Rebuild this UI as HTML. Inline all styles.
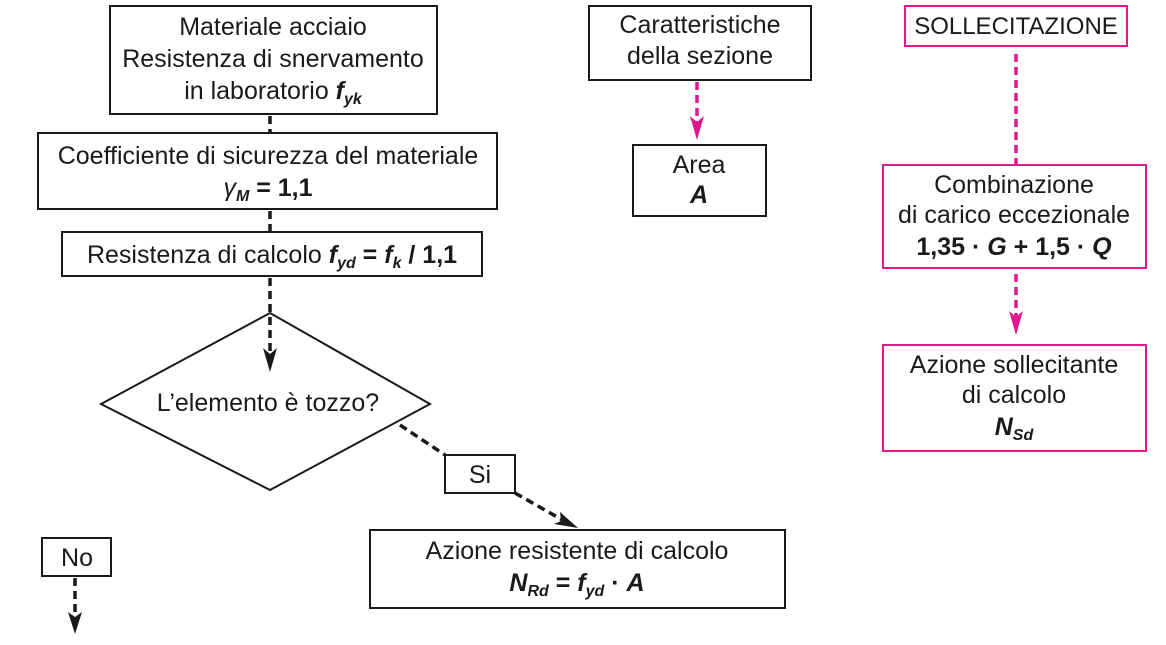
<!DOCTYPE html>
<html><head><meta charset="utf-8"><style>
html,body{margin:0;padding:0;background:#fff;}
svg{display:block;font-family:"Liberation Sans",sans-serif;}
text{font-size:25px;fill:#1a1a1a;text-anchor:middle;}
.b{font-weight:bold;}
.bi{font-weight:bold;font-style:italic;}
.s{font-size:16px;}
</style></head><body>
<svg width="1166" height="645" viewBox="0 0 1166 645" xmlns="http://www.w3.org/2000/svg">
<g fill="none" stroke="#1a1a1a" stroke-width="2">
<rect x="110" y="6" width="327" height="108"/>
<rect x="38" y="133" width="459" height="76"/>
<rect x="62" y="232" width="420" height="44"/>
<polygon points="101,404 270,313 430,404 270,490"/>
<rect x="445" y="455" width="70" height="38"/>
<rect x="370" y="530" width="415" height="78"/>
<rect x="42" y="538" width="69" height="38"/>
<rect x="589" y="6" width="222" height="74"/>
<rect x="633" y="145" width="133" height="71"/>
</g>
<g stroke="#1a1a1a" stroke-width="3.5" stroke-dasharray="8,5" fill="none">
<line x1="270" y1="116" x2="270" y2="133"/>
<line x1="270" y1="211" x2="270" y2="232"/>
<line x1="270" y1="278" x2="270" y2="360"/>
<line x1="400" y1="425" x2="445" y2="455"/>
<line x1="515" y1="493" x2="566" y2="522"/>
<line x1="75" y1="578" x2="75" y2="622"/>
</g>
<path d="M263,348 L270,372 L277,348 L270,354 Z" fill="#1a1a1a"/>
<path d="M560,512 L578,528 L554,524 L561,521 Z" fill="#1a1a1a"/>
<path d="M68,612 L75,634 L82,612 L75,617 Z" fill="#1a1a1a"/>
<g fill="none" stroke="#e0188c" stroke-width="2">
<rect x="905" y="6" width="222" height="40"/>
<rect x="883" y="165" width="263" height="103"/>
<rect x="883" y="345" width="263" height="106"/>
</g>
<g stroke="#e0188c" stroke-width="3.5" stroke-dasharray="8,5" fill="none">
<line x1="697" y1="82" x2="697" y2="128"/>
<line x1="1016" y1="54" x2="1016" y2="164"/>
<line x1="1016" y1="274" x2="1016" y2="322"/>
</g>
<path d="M690,116 L697,140 L704,116 L697,122 Z" fill="#e0188c"/>
<path d="M1009,311 L1016,335 L1023,311 L1016,317 Z" fill="#e0188c"/>

<text x="273" y="35">Materiale acciaio</text>
<text x="273" y="67">Resistenza di snervamento</text>
<text x="273" y="99">in laboratorio <tspan class="bi">f</tspan><tspan class="bi s" dy="5">yk</tspan></text>
<text x="268" y="164">Coefficiente di sicurezza del materiale</text>
<text x="268" y="196"><tspan font-style="italic">γ</tspan><tspan class="bi s" dy="5">M</tspan><tspan class="b" dy="-5"> = 1,1</tspan></text>
<text x="272" y="263">Resistenza di calcolo <tspan class="bi">f</tspan><tspan class="bi s" dy="5">yd</tspan><tspan class="b" dy="-5"> = </tspan><tspan class="bi">f</tspan><tspan class="bi s" dy="5">k</tspan><tspan class="b" dy="-5"> / 1,1</tspan></text>
<text x="268" y="411">L’elemento è tozzo?</text>
<text x="480" y="483">Si</text>
<text x="577" y="559">Azione resistente di calcolo</text>
<text x="577" y="591"><tspan class="bi">N</tspan><tspan class="bi s" dy="5">Rd</tspan><tspan class="b" dy="-5"> = </tspan><tspan class="bi">f</tspan><tspan class="bi s" dy="5">yd</tspan><tspan class="b" dy="-5"> · </tspan><tspan class="bi">A</tspan></text>
<text x="77" y="566">No</text>
<text x="700" y="33">Caratteristiche</text>
<text x="700" y="64">della sezione</text>
<text x="699" y="173">Area</text>
<text x="699" y="203" class="bi">A</text>
<text x="1016" y="34" style="font-size:24px">SOLLECITAZIONE</text>
<text x="1014" y="193">Combinazione</text>
<text x="1014" y="223">di carico eccezionale</text>
<text x="1014" y="255" class="b">1,35 · <tspan font-style="italic">G</tspan> + 1,5 · <tspan font-style="italic">Q</tspan></text>
<text x="1014" y="373">Azione sollecitante</text>
<text x="1014" y="403">di calcolo</text>
<text x="1014" y="435"><tspan class="bi">N</tspan><tspan class="bi s" dy="5">Sd</tspan></text>
</svg>
</body></html>
